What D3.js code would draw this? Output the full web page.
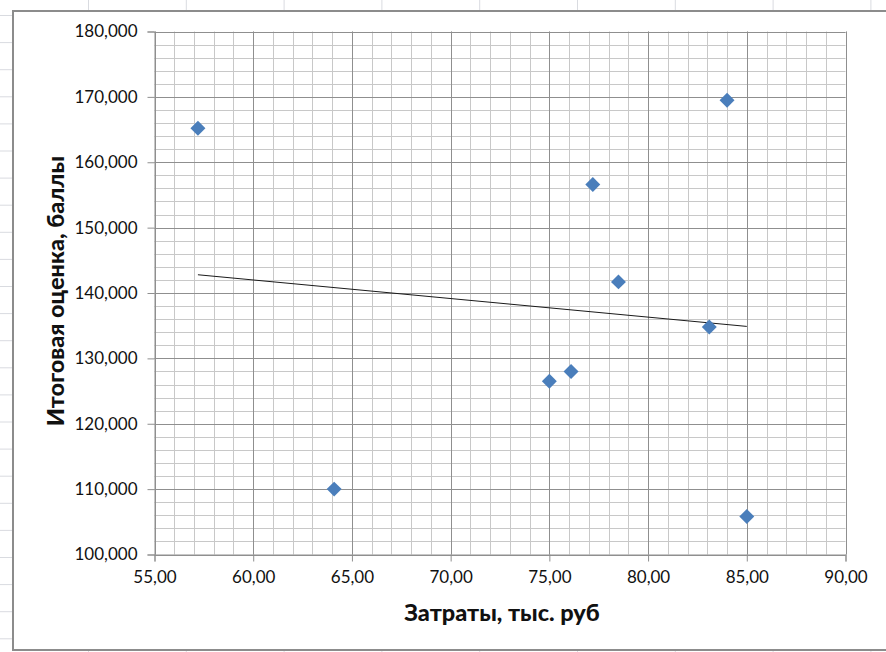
<!DOCTYPE html>
<html><head><meta charset="utf-8">
<script src="https://cdn.jsdelivr.net/npm/d3@7"></script>
<style>html,body{margin:0;padding:0;background:#fff;}svg{display:block;}</style>
</head><body>
<svg id="c" width="886" height="652"></svg>
<script>
// Data
const costs  = [57.2, 64.1, 75.0, 76.1, 77.2, 78.5, 83.1, 84.0, 85.0];
const scores = [165.2, 110.0, 126.5, 128.0, 156.6, 141.7, 134.8, 169.5, 105.8];
const xTicks = [55, 60, 65, 70, 75, 80, 85, 90];
const yTicks = [100, 110, 120, 130, 140, 150, 160, 170, 180];
const xTitle = "Затраты, тыс. руб";
const yTitle = "Итоговая оценка, баллы";

const svg = d3.select("#c");
const W = 886, H = 652;

// spreadsheet background grid
const bg = svg.append("g");
bg.selectAll("line.v").data(d3.range(0, 10)).join("line")
  .attr("x1", d => 88.5 + d * 97.8).attr("x2", d => 88.5 + d * 97.8)
  .attr("y1", 0).attr("y2", H).attr("stroke", "#d9dbe0").attr("stroke-width", 1);
bg.selectAll("line.h").data(d3.range(0, 24)).join("line")
  .attr("y1", d => 15.5 + d * 27.1).attr("y2", d => 15.5 + d * 27.1)
  .attr("x1", 0).attr("x2", W).attr("stroke", "#d9dbe0").attr("stroke-width", 1);

// chart frame
svg.append("rect").attr("x", 13).attr("y", 11).attr("width", W + 20).attr("height", 639)
  .attr("fill", "#fff").attr("stroke", "#8c8c8c").attr("stroke-width", 2);

const L = 154.5, R = 845.5, T = 31.5, B = 554.5;
const x = d3.scaleLinear().domain([55, 90]).range([L, R]);
const y = d3.scaleLinear().domain([100, 180]).range([B, T]);

const g = svg.append("g");
// minor grid
g.selectAll("line.xm").data(d3.range(55, 91, 1)).join("line")
  .attr("x1", d => Math.round(x(d)) + 0.5).attr("x2", d => Math.round(x(d)) + 0.5)
  .attr("y1", T).attr("y2", B).attr("stroke", "#c8c8c8");
g.selectAll("line.ym").data(d3.range(100, 181, 2)).join("line")
  .attr("y1", d => Math.round(y(d)) + 0.5).attr("y2", d => Math.round(y(d)) + 0.5)
  .attr("x1", L).attr("x2", R).attr("stroke", "#c8c8c8");
// major grid
g.selectAll("line.xM").data(xTicks).join("line")
  .attr("x1", d => Math.round(x(d)) + 0.5).attr("x2", d => Math.round(x(d)) + 0.5)
  .attr("y1", T).attr("y2", B).attr("stroke", "#8f8f8f");
g.selectAll("line.yM").data(yTicks).join("line")
  .attr("y1", d => Math.round(y(d)) + 0.5).attr("y2", d => Math.round(y(d)) + 0.5)
  .attr("x1", L).attr("x2", R).attr("stroke", "#8f8f8f");

const fmtX = v => d3.format(".2f")(v).replace(".", ",");
const fmtY = v => d3.format(".3f")(v).replace(".", ",");

const xAxis = d3.axisBottom(x).tickValues(xTicks).tickSize(7).tickPadding(9).tickFormat(fmtX);
const yAxis = d3.axisLeft(y).tickValues(yTicks).tickSize(7).tickPadding(10).tickFormat(fmtY);

const gx = svg.append("g").attr("transform", `translate(0,${B})`).call(xAxis);
const gy = svg.append("g").attr("transform", `translate(${L},0)`).call(yAxis);
[gx, gy].forEach(a => {
  a.select(".domain").attr("stroke", "#8f8f8f");
  a.selectAll(".tick line").attr("stroke", "#8f8f8f");
  a.selectAll("text").attr("font-family", "Lato, sans-serif").attr("font-size", 17).attr("fill", "#111");
});

// trendline (least squares)
const mx = d3.mean(costs), my = d3.mean(scores);
const slope = d3.sum(costs, (c, i) => (c - mx) * (scores[i] - my)) / d3.sum(costs, c => (c - mx) ** 2);
const icpt = my - slope * mx;
const xr = d3.extent(costs);
svg.append("line")
  .attr("x1", x(xr[0])).attr("y1", y(icpt + slope * xr[0]))
  .attr("x2", x(xr[1])).attr("y2", y(icpt + slope * xr[1]))
  .attr("stroke", "#1a1a1a").attr("stroke-width", 1);

// markers
const pts = costs.map((c, i) => ({ c, s: scores[i] }));
svg.selectAll("path.pt").data(pts).join("path")
  .attr("d", d3.symbol(d3.symbolSquare, 112))
  .attr("transform", d => `translate(${x(d.c)},${y(d.s)}) rotate(45)`)
  .attr("fill", "#4a7ebb");

// titles
svg.append("text").attr("x", 502).attr("y", 621).attr("text-anchor", "middle")
  .attr("font-family", "Lato, sans-serif").attr("font-weight", "900").attr("font-size", 23.5)
  .attr("fill", "#111").text(xTitle);
svg.append("text").attr("transform", "translate(64,291) rotate(-90)").attr("text-anchor", "middle")
  .attr("font-family", "Lato, sans-serif").attr("font-weight", "900").attr("font-size", 23.5)
  .attr("fill", "#111").text(yTitle);
</script>
</body></html>
